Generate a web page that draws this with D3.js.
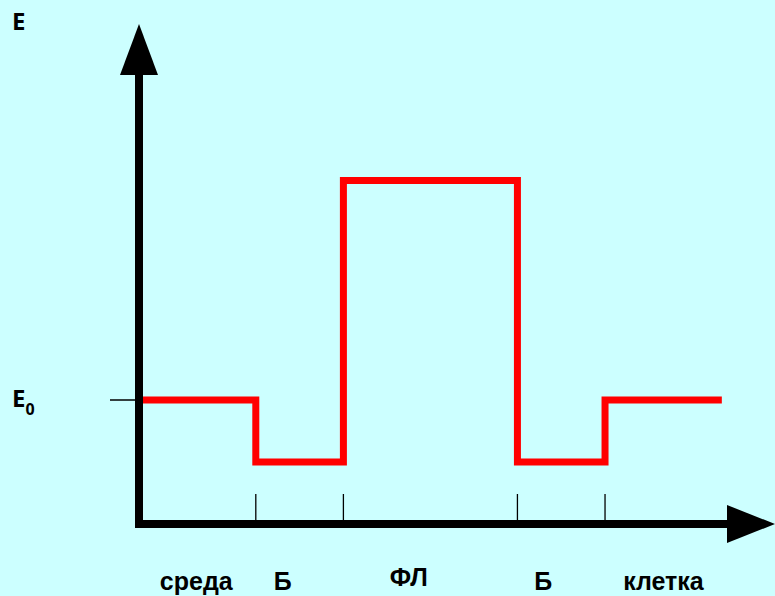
<!DOCTYPE html>
<html><head><meta charset="utf-8">
<script src="https://cdn.jsdelivr.net/npm/d3@7"></script>
<style>html,body{margin:0;padding:0;background:#CCFFFF;}svg{display:block;}</style>
</head><body>
<script>
// Region boundaries along the x-axis (arbitrary distance units)
const boundaries = [0, 1, 1.75, 3.24, 3.99, 4.99];
// Energy level in each region (E0 = 1)
const regionNames = ["среда", "Б", "ФЛ", "Б", "клетка"];
const energies = [1, 0.5, 2.77, 0.5, 1];
const labelPos = [0.49, 1.23, 2.31, 3.46, 4.49];
const tickPos = [1, 1.75, 3.24, 3.99];
const E0 = 1;

const W = 775, H = 596;
const svg = d3.select("body").append("svg").attr("width", W).attr("height", H);
svg.append("rect").attr("width", W).attr("height", H).attr("fill", "#CCFFFF");

const x = d3.scaleLinear().domain([0, 1]).range([139, 255.8]);
const y = d3.scaleLinear().domain([0, 4]).range([524, 28]);

// step line
const pts = [];
energies.forEach((e, i) => { pts.push([boundaries[i], e]); pts.push([boundaries[i+1], e]); });
const line = d3.line().x(d => x(d[0])).y(d => y(d[1]));
svg.append("path").attr("d", line(pts)).attr("fill", "none")
  .attr("stroke", "#FF0000").attr("stroke-width", 7).attr("stroke-linejoin", "miter");

// ticks on x axis
svg.selectAll(".xt").data(tickPos).enter().append("line")
  .attr("x1", d => x(d)).attr("x2", d => x(d)).attr("y1", 494).attr("y2", y(0))
  .attr("stroke", "#000").attr("stroke-width", 1.3);

// E0 tick
svg.append("line").attr("x1", 110).attr("x2", x(0)).attr("y1", y(E0)).attr("y2", y(E0))
  .attr("stroke", "#000").attr("stroke-width", 1.5);

// y axis
svg.append("line").attr("x1", x(0)).attr("x2", x(0)).attr("y1", y(0) + 4).attr("y2", 74)
  .attr("stroke", "#000").attr("stroke-width", 8);
svg.append("path").attr("d", `M${x(0)},24 L${x(0)+19},75 L${x(0)-19},75 Z`).attr("fill", "#000");
// x axis
svg.append("line").attr("x1", x(0) - 4).attr("x2", 728).attr("y1", y(0)).attr("y2", y(0))
  .attr("stroke", "#000").attr("stroke-width", 8);
svg.append("path").attr("d", `M775,${y(0)} L727,${y(0)-19} L727,${y(0)+19} Z`).attr("fill", "#000");

// labels
svg.append("text").attr("x", 12).attr("y", 30).text("E")
  .attr("font-family", "Open Sans, DejaVu Sans, sans-serif").attr("font-weight", "bold").attr("font-size", 24);
const e0 = svg.append("text").attr("x", 12).attr("y", 407)
  .attr("font-family", "Open Sans, DejaVu Sans, sans-serif").attr("font-weight", "bold").attr("font-size", 24);
e0.append("tspan").text("E");
e0.append("tspan").text("0").attr("font-size", 16).attr("dy", 8);

svg.selectAll(".lbl").data(regionNames).enter().append("text")
  .attr("x", (d, i) => x(labelPos[i])).attr("y", (d, i) => i === 2 ? 586 : 590)
  .attr("text-anchor", "middle")
  .attr("font-family", "Liberation Sans Narrow, Arial Narrow, Liberation Sans, sans-serif")
  .attr("font-weight", "bold").attr("font-size", 25).text(d => d);
</script>
</body></html>
